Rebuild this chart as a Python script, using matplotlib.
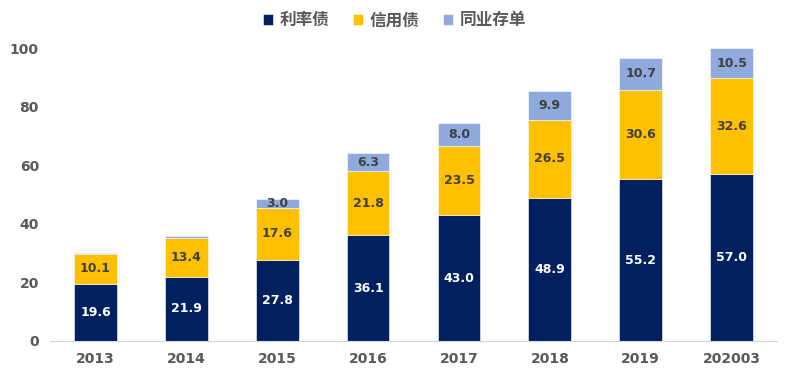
import matplotlib
matplotlib.use("Agg")
import matplotlib.pyplot as plt
import numpy as np

plt.rcParams['font.family'] = ['Noto Sans CJK SC', 'DejaVu Sans']

categories = ["2013", "2014", "2015", "2016", "2017", "2018", "2019", "202003"]
rate_bonds = [19.6, 21.9, 27.8, 36.1, 43.0, 48.9, 55.2, 57.0]
credit_bonds = [10.1, 13.4, 17.6, 21.8, 23.5, 26.5, 30.6, 32.6]
ncd = [0.5, 0.6, 3.0, 6.3, 8.0, 9.9, 10.7, 10.5]
series_names = ["利率债", "信用债", "同业存单"]
colors = ["#002060", "#FFC000", "#8FAADC"]

fig = plt.figure(figsize=(7.89, 3.72), dpi=100)
ax = fig.add_axes([50/789, 31/372, 727/789, 293/372])

x = np.arange(len(categories))
w = 0.47
r = np.array(rate_bonds); c = np.array(credit_bonds); n = np.array(ncd)
ax.bar(x, r, w, color=colors[0], label=series_names[0], edgecolor='white', linewidth=0.4)
ax.bar(x, c, w, bottom=r, color=colors[1], label=series_names[1], edgecolor='white', linewidth=0.4)
ax.bar(x, n, w, bottom=r + c, color=colors[2], label=series_names[2], edgecolor='white', linewidth=0.4)

for i in range(len(x)):
    ax.text(x[i], r[i] / 2, f"{r[i]:.1f}", ha='center', va='center', color='white',
            fontsize=9, fontweight='bold', family=['DejaVu Sans'])
    ax.text(x[i], r[i] + c[i] / 2, f"{c[i]:.1f}", ha='center', va='center', color='#404040',
            fontsize=9, fontweight='bold', family=['DejaVu Sans'])
    if n[i] >= 2:
        ax.text(x[i], r[i] + c[i] + n[i] / 2, f"{n[i]:.1f}", ha='center', va='center', color='#404040',
                fontsize=9, fontweight='bold', family=['DejaVu Sans'])

ax.set_xlim(-0.5, 7.5)
ax.set_ylim(0, 100)
ax.set_yticks(range(0, 101, 20))
ax.set_xticks(x)
ax.set_xticklabels(categories)
for s in ['top', 'right', 'left']:
    ax.spines[s].set_visible(False)
ax.spines['bottom'].set_color('#D9D9D9')
ax.tick_params(axis='both', length=0, labelsize=10, colors='#595959', pad=8)
for lab in ax.get_xticklabels() + ax.get_yticklabels():
    lab.set_fontweight('bold')
    lab.set_family(['DejaVu Sans'])

leg = fig.legend(loc='upper center', bbox_to_anchor=(0.5, 1.01), ncol=3, frameon=False,
                 fontsize=12, handlelength=0.6, handleheight=0.6, handletextpad=0.4, columnspacing=1.4)
for t in leg.get_texts():
    t.set_color('#595959')
    t.set_fontweight('bold')

fig.savefig("out.png", dpi=100)
